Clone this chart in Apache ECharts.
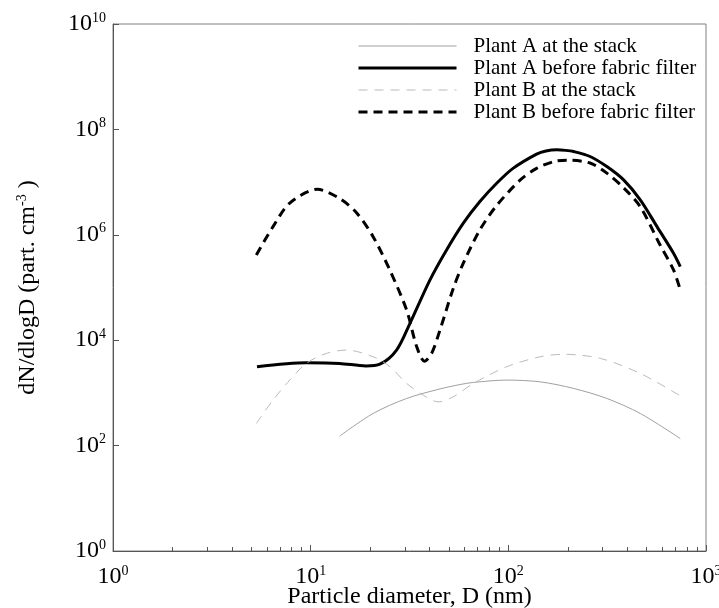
<!DOCTYPE html>
<html>
<head>
<meta charset="utf-8">
<script src="https://cdn.jsdelivr.net/npm/echarts@6/dist/echarts.min.js"></script>
<style>
  html, body { margin: 0; padding: 0; background: #fff; }
  #main { width: 719px; height: 608px; }
</style>
</head>
<body>
<div id="main"></div>
<script>
// series names
var seriesNames = ['Plant A at the stack', 'Plant A before fabric filter', 'Plant B at the stack', 'Plant B before fabric filter'];

// Plant A at the stack
var aStackX = [14, 20.7, 30.6, 45.1, 56.9, 66.5, 98, 145, 214, 315, 465, 741];
var aStackY = [151, 407, 785, 1190, 1440, 1580, 1750, 1620, 1215, 785, 407, 136];

// Plant A before fabric filter
var aBeforeX = [5.35, 9.5, 14, 19, 22.4, 27.2, 31.8, 40.1, 48.7, 59.2, 71.8, 87.3, 106, 139, 155, 176, 195, 214, 259, 315, 383, 465, 565, 685, 741];
var aBeforeY = [3130, 3720, 3630, 3250, 3500, 6500, 20900, 138000, 515000, 1660000, 4270000, 9500000, 18400000, 34000000, 39000000, 41000000, 40000000, 38000000, 30600000, 19700000, 11000000, 4600000, 1430000, 447000, 250000];

// Plant B at the stack
var bStackX = [5.31, 6.45, 7.84, 9.5, 12, 15.2, 20.7, 25.2, 30.6, 37.1, 44.2, 52.6, 66.5, 98, 145, 190, 292, 465, 741];
var bStackY = [263, 730, 1750, 3630, 5600, 6500, 4850, 3130, 1510, 908, 676, 842, 1510, 3130, 4850, 5400, 4520, 2340, 880];

// Plant B before fabric filter
var bBeforeX = [5.31, 6.45, 7.84, 10.8, 14, 17.1, 20.7, 25.2, 30.6, 34.4, 37.6, 40.9, 45.1, 52.6, 59.2, 71.8, 87.3, 115, 139, 170, 198, 259, 315, 383, 465, 586, 685, 741];
var bBeforeY = [414000, 1430000, 4000000, 7300000, 4900000, 2600000, 920000, 210000, 37000, 7500, 4000, 5600, 15600, 95000, 290000, 1240000, 3600000, 11000000, 18200000, 24500000, 26000000, 23000000, 14800000, 7800000, 3400000, 640000, 215000, 90000];

// ticks
var xMajorTicks = [1, 10, 100, 1000];
var xMinorTicks = [2, 3, 4, 5, 6, 7, 8, 9, 20, 30, 40, 50, 60, 70, 80, 90, 200, 300, 400, 500, 600, 700, 800, 900];
var yMajorTicks = [1, 1e2, 1e4, 1e6, 1e8, 1e10];

function pairs(xs, ys) {
  return xs.map(function (x, i) { return [x, ys[i]]; });
}

var FONT = '"Liberation Serif", "Times New Roman", serif';

var powRich = {
  b: { fontFamily: FONT, fontSize: 24, color: '#000', lineHeight: 26 },
  s: { fontFamily: FONT, fontSize: 14, color: '#000', verticalAlign: 'top', lineHeight: 14 }
};

function powLabel(v) {
  var e = Math.round(Math.log(v) / Math.LN10);
  return '{b|10}{s|' + e + '}';
}

var lineStyles = [
  { color: '#a0a0a0', width: 1 },
  { color: '#000', width: 3 },
  { color: '#bbbbbb', width: 1, type: [9, 7] },
  { color: '#000', width: 3, type: [9, 6] }
];

var chart = echarts.init(document.getElementById('main'));

var option = {
  backgroundColor: '#fff',
  animation: false,
  grid: {
    left: 113, right: 13, top: 24, bottom: 57,
    show: true, borderColor: '#808080', borderWidth: 1,
    outerBoundsMode: 'none'
  },
  legend: {
    orient: 'vertical',
    left: 352,
    top: 30,
    itemWidth: 98,
    itemHeight: 12,
    itemGap: 0,
    data: seriesNames.map(function (n, i) {
      return { name: n, lineStyle: lineStyles[i] };
    }),
    itemStyle: { opacity: 0 },
    textStyle: { fontFamily: FONT, fontSize: 21, color: '#000', lineHeight: 22, padding: [0, 0, 0, 12] }
  },
  xAxis: [{
    type: 'log',
    logBase: 10,
    min: 1,
    max: 1000,
    name: 'Particle diameter, D (nm)',
    nameLocation: 'middle',
    nameGap: 34,
    nameMoveOverlap: false,
    nameTextStyle: { fontFamily: FONT, fontSize: 24, color: '#000' },
    axisLine: { lineStyle: { color: '#555', width: 1 } },
    axisTick: { inside: true, length: 6, lineStyle: { color: '#555' }, customValues: xMajorTicks },
    axisLabel: { customValues: xMajorTicks, formatter: powLabel, rich: powRich, margin: 13 },
    splitLine: { show: false }
  }, {
    type: 'log',
    logBase: 10,
    min: 1,
    max: 1000,
    position: 'bottom',
    axisLine: { show: false },
    axisTick: { inside: true, length: 4, lineStyle: { color: '#555' }, customValues: xMinorTicks },
    axisLabel: { show: false },
    splitLine: { show: false }
  }],
  yAxis: {
    type: 'log',
    logBase: 10,
    min: 1,
    max: 1e10,
    name: '{t|dN/dlogD (part. cm}{s|-3}{t| )}',
    nameLocation: 'middle',
    nameGap: 72,
    nameMoveOverlap: false,
    nameTextStyle: {
      rich: {
        t: { fontFamily: FONT, fontSize: 24, color: '#000', lineHeight: 26 },
        s: { fontFamily: FONT, fontSize: 14, color: '#000', verticalAlign: 'top', lineHeight: 14 }
      }
    },
    axisLine: { lineStyle: { color: '#555', width: 1 } },
    axisTick: { inside: true, length: 6, lineStyle: { color: '#555' }, customValues: yMajorTicks },
    axisLabel: { customValues: yMajorTicks, formatter: powLabel, rich: powRich, margin: 7 },
    splitLine: { show: false }
  },
  series: [{
    name: seriesNames[0],
    type: 'line',
    data: pairs(aStackX, aStackY),
    smooth: 0.3,
    symbol: 'none',
    lineStyle: lineStyles[0],
    itemStyle: { color: lineStyles[0].color }
  }, {
    name: seriesNames[1],
    type: 'line',
    data: pairs(aBeforeX, aBeforeY),
    smooth: 0.3,
    symbol: 'none',
    lineStyle: lineStyles[1],
    itemStyle: { color: lineStyles[1].color }
  }, {
    name: seriesNames[2],
    type: 'line',
    data: pairs(bStackX, bStackY),
    smooth: 0.3,
    symbol: 'none',
    lineStyle: lineStyles[2],
    itemStyle: { color: lineStyles[2].color }
  }, {
    name: seriesNames[3],
    type: 'line',
    data: pairs(bBeforeX, bBeforeY),
    smooth: 0.3,
    symbol: 'none',
    lineStyle: lineStyles[3],
    itemStyle: { color: lineStyles[3].color }
  }]
};

chart.setOption(option);
</script>
</body>
</html>
